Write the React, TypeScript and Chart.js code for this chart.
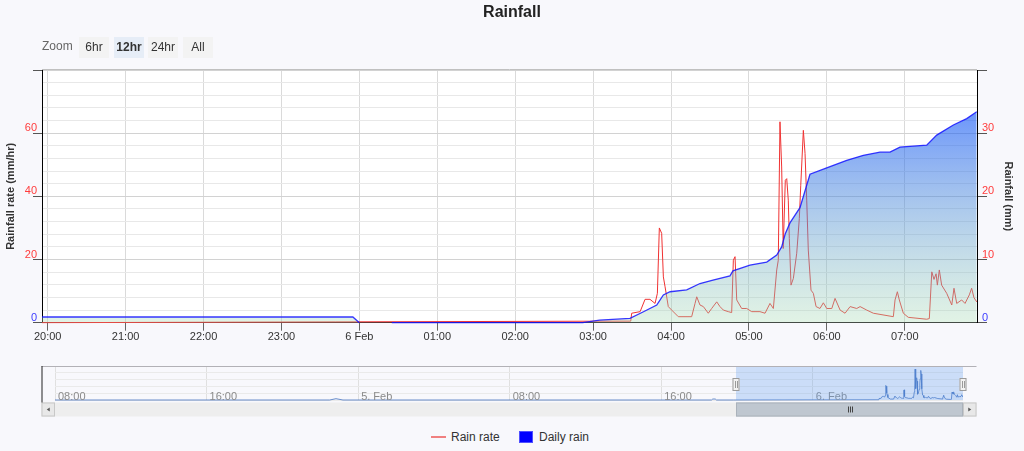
import React, { useEffect, useRef } from 'react';
import { Chart, registerables } from 'chart.js';

Chart.register(...registerables);

const FONT = '"Liberation Sans", Arial, Helvetica, sans-serif';

// ---- texts ----
const chartTitle = 'Rainfall';
const zoomLabel = 'Zoom';
const zoomButtons = ['6hr', '12hr', '24hr', 'All'];
const selectedZoom = '12hr';
const rateSeriesName = 'Rain rate';
const rainSeriesName = 'Daily rain';
const rateAxisTitle = 'Rainfall rate (mm/hr)';
const rainAxisTitle = 'Rainfall (mm)';

// ---- axes (hours relative to 5 Feb 00:00) ----
const viewStartHour = 19.927;
const viewEndHour = 31.927;
const hourTickValues = [20, 21, 22, 23, 24, 25, 26, 27, 28, 29, 30, 31];
const hourTickLabels = ['20:00', '21:00', '22:00', '23:00', '6 Feb', '01:00', '02:00', '03:00', '04:00', '05:00', '06:00', '07:00'];
const rateGridValues = [0, 4, 8, 12, 16, 20, 24, 28, 32, 36, 40, 44, 48, 52, 56, 60, 64, 68, 72, 76, 80];
const rateTickValues = [0, 20, 40, 60];
const rateTickLabels = ['0', '20', '40', '60'];
const rainTickValues = [0, 10, 20, 30, 40];
const rainTickLabels = ['0', '10', '20', '30', ''];
const navStartHour = -16;
const navEndHour = 31.927;
const navTickValues = [-16, -8, 0, 8, 16, 24];
const navTickLabels = ['08:00', '16:00', '5. Feb', '08:00', '16:00', '6. Feb'];
const navGridValues = [0, 14, 28, 42, 56, 70];

// ---- data: minutes after 5 Feb 20:00 ----
const rateMinutes = [-10, 449, 449.7, 456.2, 460, 463.8, 467.7, 469.5, 471, 472.8, 474.1, 475.4, 477.9, 480.5, 485.6, 495.9, 498.5, 499.8, 502.3, 504.9, 508.7, 511.3, 515.2, 517.7, 520.3, 524.1, 526.7, 528, 529.3, 530.6, 534.4, 538.3, 542.1, 548.5, 552.4, 556.2, 558.8, 561.4, 562.6, 563.9, 565.2, 566.4, 568, 569.1, 570.3, 571.1, 572.4, 574.2, 576.8, 578.8, 579.9, 581.9, 583.2, 584.5, 585.7, 587.8, 589.6, 591.7, 594.7, 597.3, 599.9, 603.8, 606.3, 610.2, 614, 617.9, 623, 625.6, 630.7, 635.8, 651.2, 652.5, 654.3, 655.8, 658.9, 662.7, 676.9, 678.9, 680.8, 682.5, 684.1, 685.1, 686.6, 688.4, 692.3, 696.2, 697.9, 700, 703.8, 706.4, 709.7, 711.5, 713.3, 715.4];
const rateValues = [0, 0.5, 3.0, 3.5, 7.4, 7.4, 6.1, 9.3, 30, 28.3, 14.5, 11.4, 5.1, 4.0, 1.9, 1.9, 6.1, 8.2, 5.6, 5.1, 3.0, 4.5, 6.6, 5.1, 4.0, 3.5, 3.2, 19.8, 20.9, 7.2, 4.5, 4.5, 3.5, 3.5, 3.0, 6.1, 4.5, 16.7, 19.8, 63.6, 49.3, 23.5, 45.1, 45.6, 38.8, 26.7, 11.9, 14, 22, 33, 43.5, 60.9, 53.6, 38.8, 23, 10.3, 9.3, 5.1, 4.5, 6.3, 4.5, 4.5, 7.7, 4.0, 3.0, 5.1, 4.5, 5.1, 4.0, 3.0, 1.9, 7.2, 9.8, 7.2, 3.0, 1.7, 1.1, 1.3, 16.1, 13.7, 15.5, 11.9, 16.7, 11.9, 9.3, 5.6, 10.9, 6.1, 7.2, 6.1, 8.8, 10.9, 7.9, 6.6];

const rainMinutes = [-10, 235, 240, 241, 265, 412, 425, 448.4, 458.4, 469, 474.1, 479.3, 492.1, 502.3, 512.3, 525.4, 527.7, 540.8, 553.7, 561.4, 565.2, 568, 571.6, 579.3, 587, 599.9, 615.3, 628.1, 640.9, 648.6, 656.3, 676.9, 684.6, 697.4, 707.7, 715.4];
const rainValues = [0.9, 0.9, 0, null, 0, 0, 0.4, 0.7, 1.7, 2.8, 4.4, 4.9, 5.2, 6.2, 6.75, 7.4, 8.2, 9.1, 9.6, 10.7, 12.0, 14.1, 15.8, 18.2, 23.5, 24.5, 25.7, 26.5, 27.0, 27.0, 27.8, 28.1, 29.7, 31.3, 32.3, 33.4];

// navigator history before the main window (hours relative to 5 Feb 00:00)
const navHistoryHours = [-16, -1.5, -1.17, -0.8, 18.65, 18.72, 18.85, 18.92, 19.8];
const navHistoryValues = [0, 0, 2.7, 0, 0, 2, 2, 0, 0];

const toHour = (m: number) => 20 + m / 60;

const plotBgPlugin = {
  id: 'plotBg',
  beforeDraw(chart: any) {
    const { ctx, chartArea: a } = chart;
    ctx.save();
    ctx.fillStyle = '#ffffff';
    ctx.fillRect(a.left, a.top, a.right - a.left, a.bottom - a.top);
    ctx.restore();
  },
  afterDraw(chart: any) {
    const { ctx, chartArea: a } = chart;
    ctx.save();
    ctx.strokeStyle = '#c0c0c0';
    ctx.lineWidth = 1;
    ctx.beginPath();
    ctx.moveTo(a.left, Math.round(a.top) - 0.5);
    ctx.lineTo(a.right, Math.round(a.top) - 0.5);
    ctx.stroke();
    ctx.restore();
  },
};

const navDecorPlugin = {
  id: 'navDecor',
  afterDatasetsDraw(chart: any) {
    const { ctx, chartArea: a, scales } = chart;
    const xs = scales.x;
    ctx.save();
    ctx.font = '11px ' + FONT;
    ctx.fillStyle = '#8a8a8a';
    ctx.textAlign = 'left';
    ctx.textBaseline = 'alphabetic';
    navTickValues.forEach((v, i) => {
      ctx.fillText(navTickLabels[i], xs.getPixelForValue(v) + 3, a.bottom - 0.5);
    });
    ctx.restore();
  },
  afterDraw(chart: any) {
    const { ctx, chartArea: a, scales } = chart;
    const xs = scales.x;
    const x1 = Math.round(xs.getPixelForValue(viewStartHour));
    const x2 = Math.round(Math.min(xs.getPixelForValue(viewEndHour), a.right));
    const btn = 13.5;
    const left = a.left - btn;
    const right = a.right + btn;
    const sbTop = a.bottom + 2.5;
    const sbH = 14;
    ctx.save();
    // mask
    ctx.fillStyle = 'rgba(100,160,240,0.3)';
    ctx.fillRect(x1, a.top, x2 - x1, a.bottom - a.top);
    // outline
    ctx.lineWidth = 1;
    ctx.strokeStyle = '#b2b1b6';
    ctx.beginPath();
    ctx.moveTo(left, a.top + 0.5);
    ctx.lineTo(right, a.top + 0.5);
    ctx.stroke();
    // scrollbar track
    ctx.fillStyle = '#eeeeee';
    ctx.fillRect(left, sbTop, right - left, sbH);
    // buttons
    const drawBtn = (bx: number, dir: number) => {
      ctx.fillStyle = '#e8e8e8';
      ctx.strokeStyle = '#c8c8c8';
      ctx.fillRect(bx, sbTop, btn, sbH);
      ctx.strokeRect(bx + 0.5, sbTop + 0.5, btn - 1, sbH - 1);
      const cx = bx + btn / 2;
      const cy = sbTop + sbH / 2;
      ctx.fillStyle = '#555';
      ctx.beginPath();
      ctx.moveTo(cx + 1.5 * dir, cy - 2);
      ctx.lineTo(cx + 1.5 * dir, cy + 2);
      ctx.lineTo(cx - 1.5 * dir, cy);
      ctx.closePath();
      ctx.fill();
    };
    drawBtn(left, 1);
    drawBtn(a.right, -1);
    // thumb
    ctx.fillStyle = '#bfc7d0';
    ctx.fillRect(x1, sbTop, x2 - x1, sbH);
    ctx.strokeStyle = '#aab2bb';
    ctx.strokeRect(x1 + 0.5, sbTop + 0.5, x2 - x1 - 1, sbH - 1);
    const mid = Math.round((x1 + x2) / 2);
    ctx.strokeStyle = '#444';
    for (let k = -1; k <= 1; k++) {
      ctx.beginPath();
      ctx.moveTo(mid + k * 2 + 0.5, sbTop + 4);
      ctx.lineTo(mid + k * 2 + 0.5, sbTop + sbH - 4);
      ctx.stroke();
    }
    // left edge line
    ctx.strokeStyle = '#222';
    ctx.beginPath();
    ctx.moveTo(left + 0.5, a.top);
    ctx.lineTo(left + 0.5, sbTop);
    ctx.stroke();
    // handles
    const hy = (a.top + a.bottom) / 2 - 5;
    [x1, x2].forEach((hx) => {
      ctx.fillStyle = '#f2f2f2';
      ctx.strokeStyle = '#9a9a9a';
      ctx.fillRect(hx - 3.5, hy, 7, 13);
      ctx.strokeRect(hx - 3.5 + 0.5, hy + 0.5, 6, 12);
      ctx.beginPath();
      ctx.moveTo(hx - 1 + 0.5, hy + 3);
      ctx.lineTo(hx - 1 + 0.5, hy + 10);
      ctx.moveTo(hx + 1 + 0.5, hy + 3);
      ctx.lineTo(hx + 1 + 0.5, hy + 10);
      ctx.stroke();
    });
    ctx.restore();
  },
};

export default function App() {
  const mainRef = useRef<HTMLCanvasElement>(null);
  const navRef = useRef<HTMLCanvasElement>(null);

  useEffect(() => {
    Chart.defaults.font.family = FONT;
    const ratePoints = rateMinutes.map((m, i) => ({ x: toHour(m), y: rateValues[i] }));
    const rainPoints = rainMinutes.map((m, i) => ({ x: toHour(m), y: rainValues[i] }));
    const rainMax = Math.max(...(rainValues.filter((v) => v !== null) as number[]));

    const main = new Chart(mainRef.current as HTMLCanvasElement, {
      type: 'line',
      data: {
        datasets: [
          {
            label: rateSeriesName,
            data: ratePoints as any,
            yAxisID: 'yRate',
            borderColor: '#f03232',
            borderWidth: 1,
            pointRadius: 0,
            fill: false,
            order: 1,
            clip: { left: 0, right: 0, top: 0, bottom: 1 } as any,
          },
          {
            label: rainSeriesName,
            data: rainPoints as any,
            yAxisID: 'yRain',
            borderColor: 'rgba(20,20,255,0.85)',
            borderWidth: 1.3,
            pointRadius: 0,
            fill: 'origin',
            order: 0,
            clip: { left: 0, right: 0, top: 0, bottom: 2 } as any,
            backgroundColor: (c: any) => {
              const chart = c.chart;
              const area = chart.chartArea;
              if (!area) return 'rgba(0,0,0,0)';
              const top = chart.scales.yRain.getPixelForValue(rainMax);
              const g = chart.ctx.createLinearGradient(0, top, 0, area.bottom);
              g.addColorStop(0, 'rgba(10,80,248,0.6)');
              g.addColorStop(1, 'rgba(170,220,180,0.35)');
              return g;
            },
          },
        ],
      },
      options: {
        responsive: false,
        animation: false,
        devicePixelRatio: 1,
        events: [],
        layout: { padding: { left: 0, right: 0, top: 70, bottom: 17.3 } },
        plugins: { legend: { display: false }, tooltip: { enabled: false }, title: { display: false } },
        scales: {
          x: {
            type: 'linear',
            min: viewStartHour,
            max: viewEndHour,
            afterBuildTicks: (s: any) => {
              s.ticks = hourTickValues.map((v) => ({ value: v }));
            },
            afterFit: (s: any) => {
              s.height = 20;
            },
            ticks: {
              autoSkip: false,
              maxRotation: 0,
              padding: 0,
              color: '#333',
              font: { size: 11 },
              callback: (v: any) => {
                const i = hourTickValues.indexOf(v);
                return i >= 0 ? hourTickLabels[i] : '';
              },
            },
            grid: { color: '#dadada', tickColor: '#666', tickLength: 8 },
            border: { color: '#333' },
          },
          yRate: {
            type: 'linear',
            position: 'left',
            min: 0,
            max: 80,
            afterBuildTicks: (s: any) => {
              s.ticks = rateGridValues.map((v) => ({ value: v }));
            },
            afterFit: (s: any) => {
              s.width = 42;
            },
            ticks: {
              autoSkip: false,
              padding: -4,
              labelOffset: -5,
              font: { size: 11 },
              color: (c: any) => (c.tick && c.tick.value === 0 ? '#3c3cff' : '#ff3c3c'),
              callback: (v: any) => {
                const i = rateTickValues.indexOf(v);
                return i >= 0 ? rateTickLabels[i] : '';
              },
            },
            grid: {
              color: (c: any) => (c.tick && c.tick.value % 20 === 0 ? '#d2d2d2' : '#e8e8e8'),
              tickColor: (c: any) => (c.tick && c.tick.value % 20 === 0 ? '#555' : 'rgba(0,0,0,0)'),
              tickLength: 9,
            },
            border: { color: '#000' },
            title: {
              display: true,
              text: rateAxisTitle,
              color: '#333',
              font: { size: 11, weight: 'bold' },
              padding: { top: 4, bottom: 0 },
            },
          },
          yRain: {
            type: 'linear',
            position: 'right',
            min: 0,
            max: 40,
            afterBuildTicks: (s: any) => {
              s.ticks = rainTickValues.map((v) => ({ value: v }));
            },
            afterFit: (s: any) => {
              s.width = 47;
            },
            ticks: {
              autoSkip: false,
              padding: -5,
              labelOffset: -5,
              font: { size: 11 },
              color: (c: any) => (c.tick && c.tick.value === 0 ? '#3c3cff' : '#ff3c3c'),
              callback: (v: any) => {
                const i = rainTickValues.indexOf(v);
                return i >= 0 ? rainTickLabels[i] : '';
              },
            },
            grid: { drawOnChartArea: false, tickColor: '#555', tickLength: 10 },
            border: { color: '#000' },
            title: {
              display: true,
              text: rainAxisTitle,
              color: '#333',
              font: { size: 11, weight: 'bold' },
              padding: { top: 9, bottom: 0 },
            },
          },
        },
      } as any,
      plugins: [plotBgPlugin],
    });

    const navPoints = [
      ...navHistoryHours.map((h, i) => ({ x: h, y: navHistoryValues[i] })),
      ...ratePoints,
    ];

    const nav = new Chart(navRef.current as HTMLCanvasElement, {
      type: 'line',
      data: {
        datasets: [
          {
            label: rateSeriesName,
            data: navPoints as any,
            borderColor: 'rgba(69,114,190,0.8)',
            borderWidth: 1,
            pointRadius: 0,
            fill: 'origin',
            backgroundColor: 'rgba(69,114,167,0.05)',
            clip: { left: 0, right: 0, top: 0, bottom: 1 } as any,
          },
        ],
      },
      options: {
        responsive: false,
        animation: false,
        devicePixelRatio: 1,
        events: [],
        layout: { padding: { left: 55, right: 61, top: 6, bottom: 20 } },
        plugins: { legend: { display: false }, tooltip: { enabled: false }, title: { display: false } },
        scales: {
          x: {
            type: 'linear',
            min: navStartHour,
            max: navEndHour,
            afterBuildTicks: (s: any) => {
              s.ticks = navTickValues.map((v) => ({ value: v }));
            },
            afterFit: (s: any) => {
              s.height = 0;
            },
            ticks: { display: false },
            grid: { color: '#e0e0e0', drawTicks: false },
            border: { display: false },
          },
          y: {
            type: 'linear',
            min: 0,
            max: 70,
            afterBuildTicks: (s: any) => {
              s.ticks = navGridValues.map((v) => ({ value: v }));
            },
            afterFit: (s: any) => {
              s.width = 0;
            },
            ticks: { display: false },
            grid: { color: '#eaeaea', drawTicks: false },
            border: { display: false },
          },
        },
      } as any,
      plugins: [navDecorPlugin],
    });

    return () => {
      main.destroy();
      nav.destroy();
    };
  }, []);

  const btnLefts = [79, 114, 148, 183];

  return (
    <div
      style={{
        position: 'fixed',
        left: 0,
        top: 0,
        width: 1024,
        height: 451,
        background: '#f8f8fc',
        fontFamily: FONT,
        overflow: 'hidden',
      }}
    >
      <canvas ref={mainRef} width={1024} height={360} style={{ position: 'absolute', left: 0, top: 0 }} />
      <canvas ref={navRef} width={1024} height={60} style={{ position: 'absolute', left: 0, top: 360 }} />
      <div
        style={{
          position: 'absolute',
          left: 0,
          top: 3,
          width: 1024,
          textAlign: 'center',
          fontSize: 16,
          fontWeight: 'bold',
          lineHeight: '18px',
          color: '#222',
        }}
      >
        {chartTitle}
      </div>
      <div style={{ position: 'absolute', left: 42, top: 39, fontSize: 12, lineHeight: '15px', color: '#666' }}>
        {zoomLabel}
      </div>
      {zoomButtons.map((b, i) => (
        <div
          key={b}
          style={{
            position: 'absolute',
            left: btnLefts[i],
            top: 37,
            width: 30,
            height: 21,
            lineHeight: '21px',
            textAlign: 'center',
            fontSize: 12,
            color: '#333',
            fontWeight: b === selectedZoom ? 'bold' : 'normal',
            background: b === selectedZoom ? '#e6edf7' : '#f3f3f3',
          }}
        >
          {b}
        </div>
      ))}
      <div style={{ position: 'absolute', left: 431, top: 436, width: 15, height: 2, background: '#f08080' }} />
      <div style={{ position: 'absolute', left: 451, top: 430, fontSize: 12, lineHeight: '15px', color: '#333' }}>
        {rateSeriesName}
      </div>
      <div
        style={{
          position: 'absolute',
          left: 519,
          top: 431,
          width: 14,
          height: 12,
          background: '#0000ff',
          boxShadow: 'inset 0 0 0 1px #5050ff',
        }}
      />
      <div style={{ position: 'absolute', left: 539, top: 430, fontSize: 12, lineHeight: '15px', color: '#333' }}>
        {rainSeriesName}
      </div>
    </div>
  );
}
